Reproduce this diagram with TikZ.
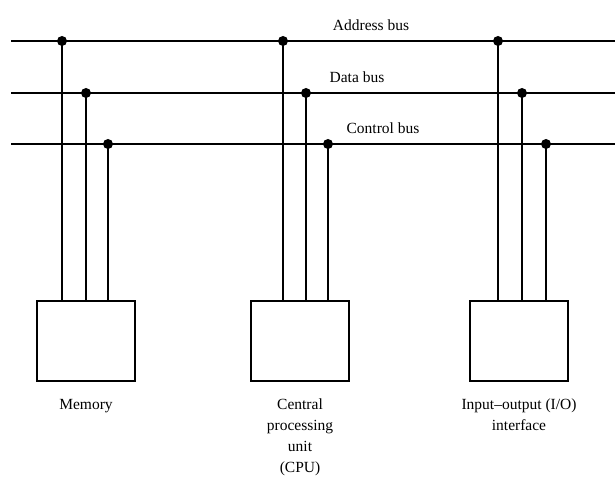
\documentclass[tikz,border=0pt]{standalone}
\usepackage{fontspec}
\setmainfont{Liberation Serif}
\usetikzlibrary{positioning,calc}

\begin{document}
\begin{tikzpicture}[x=1pt,y=-1pt,
 unit/.style={draw,line width=1.5pt,minimum width=98pt,minimum height=80pt,inner sep=0pt},
 bus/.style={line width=1.3pt},
 tap/.style={line width=1.3pt},
 joint/.style={circle,fill,inner sep=0pt,minimum size=10pt},
 lbl/.style={font=\fontsize{15.5}{21}\selectfont,align=center,inner sep=0pt}
]
\useasboundingbox (0,0) rectangle (615,502);
% buses
\coordinate (ab0) at (11,41); \coordinate (ab1) at (615,41);
\coordinate (db0) at (11,93); \coordinate (db1) at (615,93);
\coordinate (cb0) at (11,144); \coordinate (cb1) at (615,144);
\draw[bus] (ab0) -- (ab1);
\draw[bus] (db0) -- (db1);
\draw[bus] (cb0) -- (cb1);
\node[lbl,anchor=south] (abl) at (371,31) {Address bus};
\node[lbl,anchor=south] (dbl) at (357,83) {Data bus};
\node[lbl,anchor=south] (cbl) at (383,134) {Control bus};
% units
\node[unit] (mem) at (86,341) {};
\node[unit] (cpu) at (300,341) {};
\node[unit] (io) at (519,341) {};
\node[lbl,below=17pt of mem.south,anchor=north] (meml) {Memory};
\node[lbl,below=17pt of cpu.south,anchor=north] (cpul) {Central\\processing\\unit\\(CPU)};
\node[lbl,below=17pt of io.south,anchor=north] (iol) {Input--output (I/O)\\interface};
% taps
\foreach \u/\a/\d/\c in {mem/62/86/108, cpu/283/306/328, io/498/522/546}{
  \coordinate (ta) at (\a,41);
  \coordinate (td) at (\d,93);
  \coordinate (tc) at (\c,144);
  \draw[tap] (ta) -- (ta |- \u.north);
  \draw[tap] (td) -- (td |- \u.north);
  \draw[tap] (tc) -- (tc |- \u.north);
  \node[joint] at (ta) {};
  \node[joint] at (td) {};
  \node[joint] at (tc) {};
}
\end{tikzpicture}
\end{document}
